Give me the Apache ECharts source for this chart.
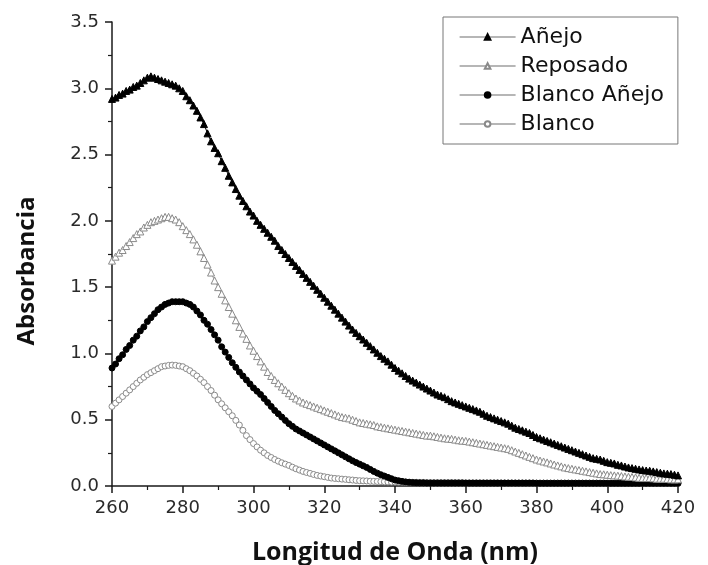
<!DOCTYPE html>
<html>
<head>
<meta charset="utf-8">
<script src="https://cdn.jsdelivr.net/npm/echarts@6/dist/echarts.min.js"></script>
<style>
  html, body { margin: 0; padding: 0; background: #fff; }
  #chart { width: 708px; height: 565px; }
</style>
</head>
<body>
<div id="chart"></div>
<script>
// wavelength grid: 1 nm steps from 260 to 420
const nmStart = 260;
const nmEnd = 420;

const seriesNames = ['Añejo', 'Reposado', 'Blanco Añejo', 'Blanco'];

const anejo = [
  2.92, 2.93, 2.95, 2.96, 2.98, 2.99, 3.01, 3.02, 3.04, 3.06,
  3.08, 3.09, 3.08, 3.07, 3.06, 3.05, 3.04, 3.03, 3.02, 3.00,
  2.98, 2.94, 2.91, 2.87, 2.83, 2.78, 2.73, 2.66, 2.60, 2.55,
  2.51, 2.45, 2.40, 2.34, 2.29, 2.24, 2.19, 2.15, 2.11, 2.07,
  2.04, 2.00, 1.97, 1.94, 1.91, 1.88, 1.85, 1.81, 1.78, 1.75,
  1.72, 1.69, 1.66, 1.63, 1.60, 1.57, 1.54, 1.51, 1.48, 1.45,
  1.42, 1.39, 1.36, 1.33, 1.30, 1.27, 1.24, 1.21, 1.18, 1.155,
  1.13, 1.105, 1.08, 1.055, 1.03, 1.005, 0.98, 0.96, 0.94, 0.915,
  0.89, 0.87, 0.85, 0.83, 0.81, 0.795, 0.78, 0.765, 0.75, 0.735,
  0.72, 0.705, 0.69, 0.68, 0.67, 0.655, 0.64, 0.63, 0.62, 0.61,
  0.60, 0.59, 0.58, 0.57, 0.56, 0.545, 0.53, 0.52, 0.51, 0.50,
  0.49, 0.48, 0.47, 0.455, 0.44, 0.43, 0.42, 0.41, 0.40, 0.385,
  0.37, 0.36, 0.35, 0.34, 0.33, 0.32, 0.31, 0.30, 0.29, 0.28,
  0.27, 0.26, 0.25, 0.24, 0.23, 0.22, 0.21, 0.205, 0.20, 0.19,
  0.18, 0.175, 0.17, 0.16, 0.155, 0.147, 0.14, 0.135, 0.13, 0.125,
  0.12, 0.117, 0.115, 0.11, 0.105, 0.10, 0.095, 0.093, 0.09, 0.085,
  0.08
];

const reposado = [
  1.70, 1.73, 1.76, 1.78, 1.81, 1.84, 1.87, 1.90, 1.92, 1.95,
  1.97, 1.99, 2.00, 2.01, 2.02, 2.03, 2.03, 2.02, 2.01, 1.99,
  1.96, 1.93, 1.90, 1.86, 1.82, 1.77, 1.72, 1.67, 1.61, 1.55,
  1.50, 1.45, 1.40, 1.35, 1.30, 1.25, 1.20, 1.15, 1.11, 1.06,
  1.02, 0.98, 0.94, 0.90, 0.86, 0.83, 0.80, 0.775, 0.75, 0.725,
  0.70, 0.68, 0.66, 0.645, 0.63, 0.62, 0.61, 0.60, 0.59, 0.58,
  0.57, 0.56, 0.55, 0.54, 0.53, 0.52, 0.515, 0.51, 0.50, 0.49,
  0.48, 0.475, 0.47, 0.465, 0.46, 0.45, 0.445, 0.44, 0.435, 0.43,
  0.425, 0.42, 0.415, 0.41, 0.405, 0.40, 0.395, 0.39, 0.385, 0.38,
  0.38, 0.375, 0.37, 0.365, 0.36, 0.357, 0.355, 0.35, 0.345, 0.342,
  0.34, 0.335, 0.33, 0.325, 0.32, 0.315, 0.31, 0.305, 0.30, 0.295,
  0.29, 0.285, 0.28, 0.27, 0.26, 0.25, 0.24, 0.23, 0.22, 0.21,
  0.20, 0.192, 0.185, 0.178, 0.17, 0.162, 0.155, 0.148, 0.14, 0.135,
  0.13, 0.125, 0.12, 0.115, 0.11, 0.105, 0.10, 0.095, 0.09, 0.088,
  0.085, 0.082, 0.08, 0.078, 0.075, 0.072, 0.07, 0.068, 0.065, 0.062,
  0.06, 0.06, 0.06, 0.058, 0.055, 0.055, 0.055, 0.053, 0.05, 0.05,
  0.05
];

const blancoAnejo = [
  0.89, 0.92, 0.96, 0.99, 1.03, 1.06, 1.10, 1.13, 1.17, 1.20,
  1.24, 1.27, 1.30, 1.33, 1.35, 1.37, 1.38, 1.39, 1.39, 1.39,
  1.39, 1.38, 1.37, 1.35, 1.32, 1.29, 1.25, 1.22, 1.18, 1.14,
  1.10, 1.05, 1.01, 0.97, 0.93, 0.895, 0.86, 0.83, 0.80, 0.77,
  0.74, 0.715, 0.69, 0.66, 0.63, 0.60, 0.57, 0.545, 0.52, 0.495,
  0.47, 0.45, 0.43, 0.415, 0.40, 0.385, 0.37, 0.355, 0.34, 0.325,
  0.31, 0.295, 0.28, 0.265, 0.25, 0.235, 0.22, 0.205, 0.19, 0.177,
  0.165, 0.152, 0.14, 0.125, 0.11, 0.097, 0.085, 0.075, 0.065, 0.055,
  0.045, 0.04, 0.035, 0.031, 0.028, 0.026, 0.025, 0.024, 0.024, 0.023,
  0.023, 0.023, 0.023, 0.023, 0.023, 0.023, 0.023, 0.023, 0.023, 0.023,
  0.022, 0.022, 0.022, 0.022, 0.022, 0.022, 0.022, 0.022, 0.022, 0.022,
  0.022, 0.022, 0.022, 0.022, 0.022, 0.022, 0.022, 0.022, 0.022, 0.022,
  0.021, 0.021, 0.021, 0.021, 0.021, 0.021, 0.021, 0.021, 0.021, 0.021,
  0.021, 0.021, 0.021, 0.021, 0.021, 0.021, 0.021, 0.021, 0.021, 0.021,
  0.02, 0.02, 0.02, 0.02, 0.02, 0.02, 0.02, 0.02, 0.02, 0.02,
  0.02, 0.02, 0.02, 0.02, 0.02, 0.02, 0.02, 0.02, 0.02, 0.02,
  0.02
];

const blanco = [
  0.60, 0.625, 0.65, 0.675, 0.70, 0.725, 0.75, 0.775, 0.80, 0.82,
  0.84, 0.855, 0.87, 0.885, 0.90, 0.905, 0.91, 0.912, 0.91, 0.905,
  0.90, 0.885, 0.87, 0.85, 0.83, 0.805, 0.78, 0.75, 0.72, 0.685,
  0.65, 0.62, 0.59, 0.56, 0.53, 0.495, 0.46, 0.42, 0.38, 0.35,
  0.32, 0.295, 0.27, 0.25, 0.23, 0.215, 0.20, 0.187, 0.175, 0.165,
  0.155, 0.142, 0.13, 0.12, 0.11, 0.102, 0.095, 0.087, 0.08, 0.075,
  0.07, 0.065, 0.06, 0.057, 0.055, 0.052, 0.05, 0.047, 0.045, 0.042,
  0.04, 0.039, 0.038, 0.036, 0.035, 0.034, 0.033, 0.032, 0.031, 0.03,
  0.03, 0.03, 0.03, 0.029, 0.029, 0.028, 0.028, 0.027, 0.027, 0.026,
  0.025, 0.025, 0.025, 0.025, 0.025, 0.025, 0.025, 0.025, 0.025, 0.025,
  0.024, 0.024, 0.024, 0.024, 0.024, 0.024, 0.024, 0.024, 0.024, 0.024,
  0.023, 0.023, 0.023, 0.023, 0.023, 0.023, 0.023, 0.023, 0.023, 0.023,
  0.022, 0.022, 0.022, 0.022, 0.022, 0.022, 0.022, 0.022, 0.022, 0.022,
  0.022, 0.022, 0.022, 0.022, 0.022, 0.022, 0.022, 0.022, 0.022, 0.022,
  0.021, 0.021, 0.021, 0.021, 0.021, 0.021, 0.021, 0.021, 0.021, 0.021,
  0.02, 0.02, 0.02, 0.02, 0.02, 0.02, 0.02, 0.02, 0.02, 0.02,
  0.02
];

const toPairs = (values) => values.map((v, i) => [nmStart + i, v]);

const axisColor = '#1a1a1a';
const tickFont = { color: '#2a2a2a', fontSize: 18, fontFamily: '"DejaVu Sans", "Liberation Sans", sans-serif' };
const nameFont = { color: '#111', fontWeight: 'bold', fontFamily: '"Open Sans", "Noto Sans", sans-serif' };

const styles = [
  { symbol: 'triangle', size: 7, fill: '#000', border: '#000', line: '#000' },
  { symbol: 'triangle', size: 7, fill: '#fff', border: '#8a8a8a', line: '#9a9a9a' },
  { symbol: 'circle', size: 6, fill: '#000', border: '#000', line: '#000' },
  { symbol: 'circle', size: 6, fill: '#fff', border: '#8a8a8a', line: '#9a9a9a' },
];

const allData = [anejo, reposado, blancoAnejo, blanco];

const chart = echarts.init(document.getElementById('chart'), null, { renderer: 'canvas' });

chart.setOption({
  backgroundColor: '#fff',
  animation: false,
  // fixed plot box; don't let v6 shrink it to fit the axis names
  grid: { left: 112, right: 30, top: 22, bottom: 79, outerBoundsMode: 'none', containLabel: false },
  legend: {
    orient: 'vertical',
    left: 443,
    top: 17,
    padding: [9, 14, 9, 16],
    itemGap: 7,
    itemWidth: 56,
    itemHeight: 7,
    borderColor: '#777',
    borderWidth: 1,
    textStyle: { color: '#111', fontSize: 22, fontFamily: '"DejaVu Sans", "Liberation Sans", sans-serif' },
    data: seriesNames.map((name) => ({
      name,
      lineStyle: { color: '#6e6e6e', width: 1.2 },
    })),
  },
  xAxis: {
    type: 'value',
    min: nmStart,
    max: nmEnd,
    interval: 20,
    name: 'Longitud de Onda (nm)',
    nameLocation: 'middle',
    nameGap: 54,
    nameTextStyle: Object.assign({ fontSize: 25 }, nameFont),
    axisLine: { onZero: false, lineStyle: { color: axisColor, width: 1.5 } },
    axisTick: { inside: false, length: 7, lineStyle: { color: axisColor, width: 1.5 } },
    minorTick: { show: true, splitNumber: 2, length: 4, lineStyle: { color: axisColor, width: 1.2 } },
    axisLabel: Object.assign({ margin: 13 }, tickFont),
    splitLine: { show: false },
  },
  yAxis: {
    type: 'value',
    min: 0,
    max: 3.5,
    interval: 0.5,
    name: 'Absorbancia',
    nameLocation: 'middle',
    nameGap: 73,
    // push the title a little below the plot middle, as in the figure
    nameTextStyle: Object.assign({ fontSize: 24, padding: [0, 34, 0, 0] }, nameFont),
    axisLine: { show: true, lineStyle: { color: axisColor, width: 1.5 } },
    axisTick: { show: true, inside: false, length: 7, lineStyle: { color: axisColor, width: 1.5 } },
    minorTick: { show: true, splitNumber: 2, length: 4, lineStyle: { color: axisColor, width: 1.2 } },
    axisLabel: Object.assign({ margin: 13, formatter: (v) => v.toFixed(1) }, tickFont),
    splitLine: { show: false },
  },
  series: seriesNames.map((name, k) => ({
    name,
    type: 'line',
    data: toPairs(allData[k]),
    symbol: styles[k].symbol,
    symbolSize: styles[k].size,
    showAllSymbol: true,
    clip: true,
    z: 10 - k,
    lineStyle: { color: styles[k].line, width: 1 },
    itemStyle: { color: styles[k].fill, borderColor: styles[k].border, borderWidth: 1 },
  })),
});
</script>
</body>
</html>
